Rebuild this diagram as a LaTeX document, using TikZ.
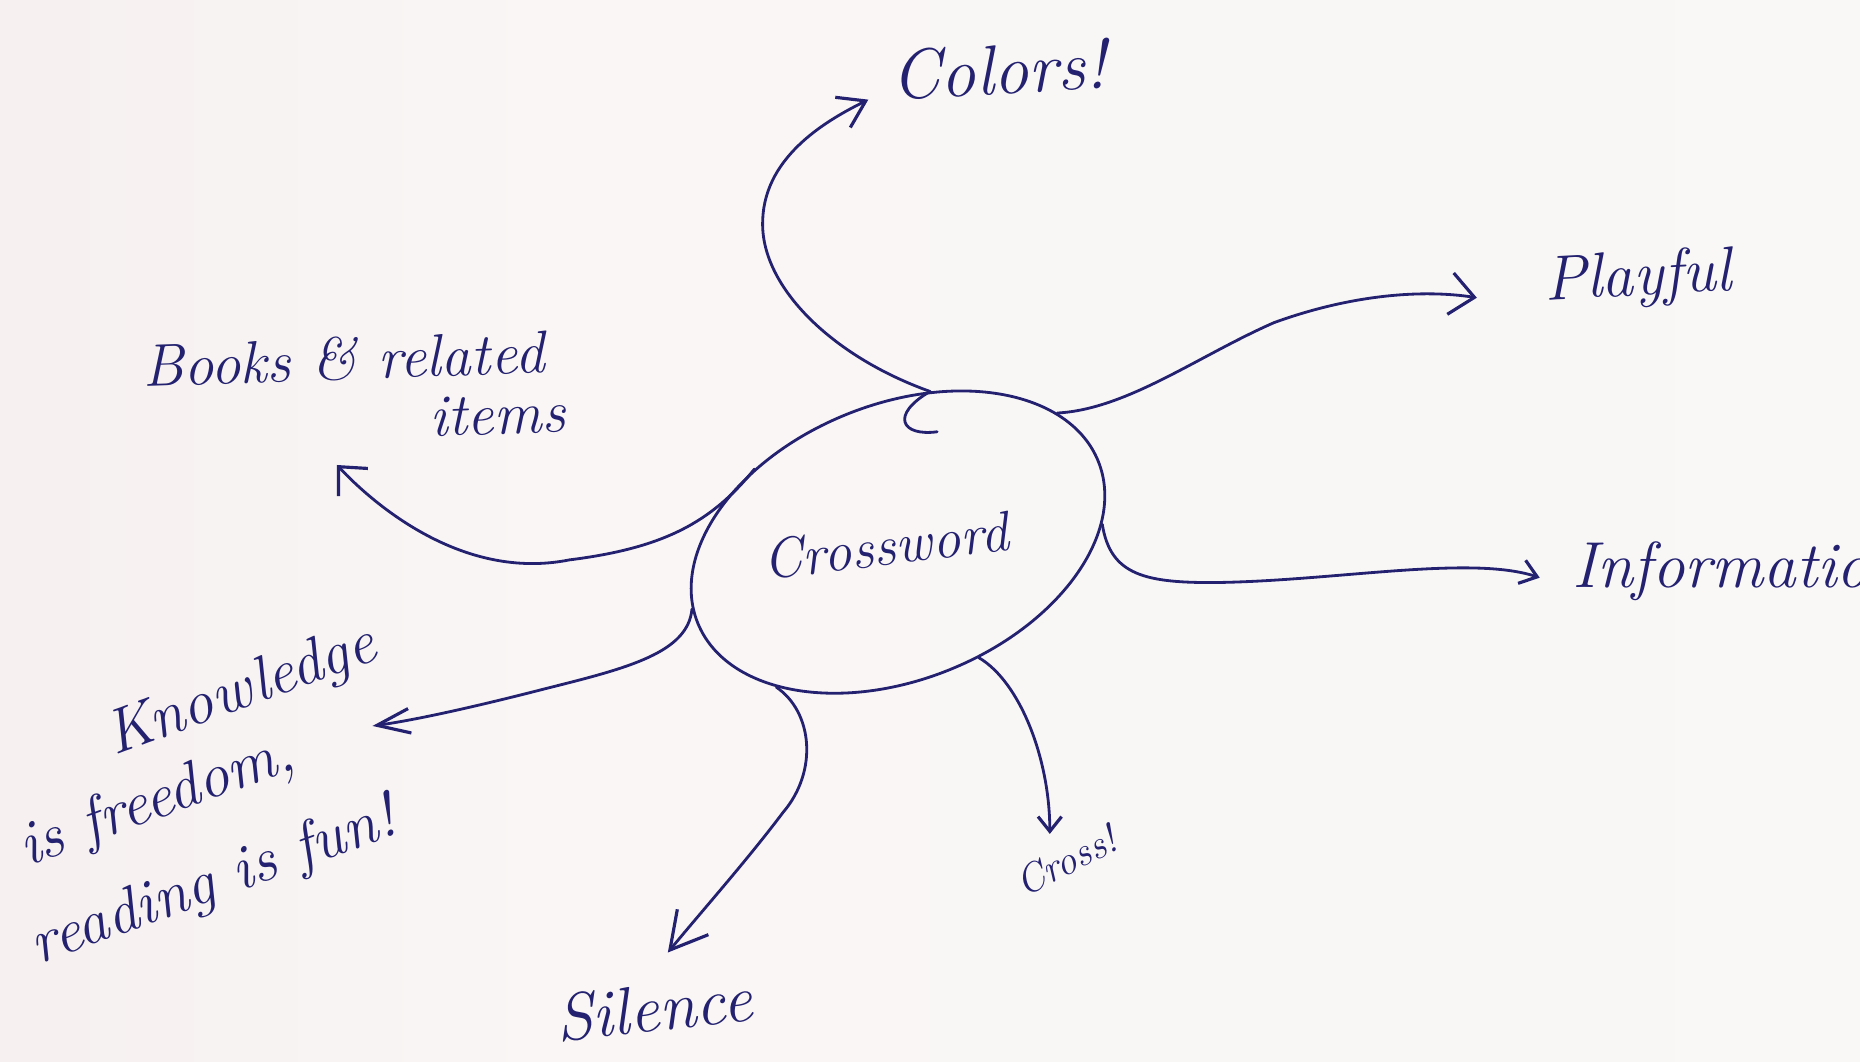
\documentclass[tikz,border=0pt]{standalone}
\usepackage{fontspec}
\usetikzlibrary{arrows.meta,shapes.geometric}
\definecolor{ink}{RGB}{36,34,112}
\definecolor{paperA}{RGB}{232,222,222}
\definecolor{paperB}{RGB}{243,236,235}
\definecolor{paperC}{RGB}{249,246,245}
\definecolor{paperD}{RGB}{250,249,248}
\pgfdeclarehorizontalshading{paper}{100bp}{color(0bp)=(paperA); color(12bp)=(paperB); color(40bp)=(paperC); color(100bp)=(paperD)}
\newcommand\fsz[1]{\fontsize{#1pt}{#1pt}\selectfont}
\begin{document}
\begin{tikzpicture}[x=0.01186cm, y=-0.01186cm,
  pen/.style={draw=ink, line width=0.8pt, line cap=round, line join=round},
  lbl/.style={anchor=base west, inner sep=0pt, text=ink, font=\itshape\fsz{#1}},
  barb/.style n args={2}{-{Straight Barb[length=#1, width=#2, line width=0.9pt]}}
]
\shade[shading=paper, shading angle=0] (0,0) rectangle (1568,894.6);
\useasboundingbox (0,0) rectangle (1568,894.6);

% central ellipse
\node[pen, ellipse, rotate=22, minimum width=4.317cm, minimum height=2.752cm, inner sep=0pt] (cw) at (757,457) {};
\node[lbl=16, rotate=7] (cwtext) at (645,489) {Crossword};
\draw[pen] (790,364) .. controls (760,368) and (750,350) .. (cw.56);

% labels
\node[lbl=20, rotate=3] (colors) at (752,84) {Colors!};
\node[lbl=18, rotate=3] (playful) at (1302,253) {Playful};
\node[lbl=18.5] (info) at (1325,495) {Information};
\node[lbl=17, rotate=2] (books) at (120,326) {Books \& related};
\node[lbl=17, rotate=2] (items) at (362,368) {items};
\node[text=ink, font=\itshape\fsz{17.8}, rotate=20, align=left, inner sep=0pt, anchor=center] (know) at (172,672)
  {\hspace*{40.7pt}Knowledge\\[3.4pt]\hspace*{6.4pt}is freedom,\\[9.5pt]reading is fun!};
\node[lbl=19, rotate=6] (silence) at (470,878) {Silence};
\node[lbl=11.5, rotate=27] (cross) at (863,757) {Cross!};

% arrow tips
\coordinate (tColors) at (732,84);
\coordinate (tPlay) at (1245,251);
\coordinate (tInfo) at (1298,487);
\coordinate (tCross) at (885,703);
\coordinate (tSil) at (563,803);
\coordinate (tKnow) at (314,612);
\coordinate (tBooks) at (284,392);

% connectors
\draw[pen, barb={7.3pt}{9.6pt}] (cw.56) .. controls (700,300) and (640,240) .. (643,185)
  .. controls (645,130) and (700,100) .. (tColors);
\draw[pen, barb={6.9pt}{11.9pt}] (cw.17) .. controls (950,345) and (1010,300) .. (1074,272)
  .. controls (1140,248) and (1200,244) .. (tPlay);
\draw[pen, barb={4.6pt}{6.9pt}] (cw.343) .. controls (936,485) and (965,492) .. (1030,491)
  .. controls (1130,489) and (1240,468) .. (tInfo);
\draw[pen, barb={4.2pt}{6.7pt}] (cw.283) .. controls (860,575) and (885,640) .. (tCross);
\draw[pen, barb={10.3pt}{11.4pt}] (cw.208) .. controls (685,600) and (690,650) .. (660,685)
  .. controls (630,725) and (590,770) .. (tSil);
\draw[pen, barb={9.4pt}{7pt}] (cw.176) .. controls (580,550) and (530,563) .. (462,580)
  .. controls (400,596) and (350,607) .. (tKnow);
\draw[pen, barb={6.1pt}{11.5pt}] (cw.131) .. controls (600,440) and (560,462) .. (480,472)
  .. controls (390,490) and (315,425) .. (tBooks);
\end{tikzpicture}
\end{document}
